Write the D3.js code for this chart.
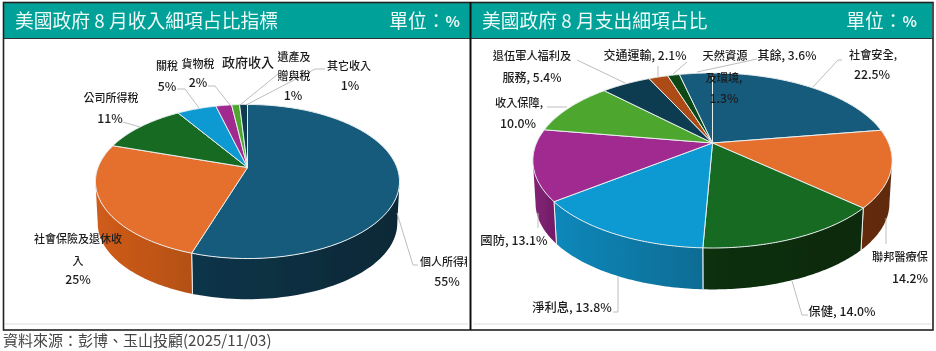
<!DOCTYPE html>
<html>
<head>
<meta charset="utf-8">
<script src="https://cdn.jsdelivr.net/npm/d3@7"></script>
<style>
  body { margin: 0; background: #fff; }
  svg { display: block; }
  text { font-family: "Noto Sans CJK TC", "Noto Sans", sans-serif; }
</style>
</head>
<body>
<div id="chart"></div>
<script>
// revenue
const revenueNames = ["個人所得稅", "社會保險及退休收入", "公司所得稅", "關稅", "貨物稅", "遺產及贈與稅", "其它收入"];
const revenueValues = [55, 25, 11, 5, 2, 1, 1];
const revenueColors = ["#155a7c", "#e5702d", "#196a23", "#0f9ad3", "#a02a90", "#4ea72e", "#0d3a4f"];

// spending
const spendingNames = ["社會安全", "聯邦醫療保健", "保健", "淨利息", "國防", "收入保障", "退伍軍人福利及服務", "交通運輸", "天然資源及環境", "其餘"];
const spendingValues = [22.5, 14.2, 14.0, 13.8, 13.1, 10.0, 5.4, 2.1, 1.3, 3.6];
const spendingColors = ["#155a7c", "#e5702d", "#196a23", "#0f9ad3", "#a02a90", "#4ea72e", "#0d3a4f", "#ad4c17", "#0e4a18", "#155a7c"];

const width = 936, height = 351;

const svg = d3.select("#chart").append("svg")
  .attr("width", width)
  .attr("height", height);

const defs = svg.append("defs");
const soft = defs.append("filter").attr("id", "soft");
soft.append("feGaussianBlur").attr("stdDeviation", 0.35);

// panel clips, the long label is cut at the panel edge in the source
defs.append("clipPath").attr("id", "clipL").append("rect")
  .attr("x", 4).attr("y", 4).attr("width", 463).attr("height", 325);
defs.append("clipPath").attr("id", "clipR").append("rect")
  .attr("x", 472).attr("y", 4).attr("width", 460).attr("height", 325);

const root = svg.append("g").attr("filter", "url(#soft)");

// header bands and frame
const teal = "#00a198";
root.append("rect").attr("x", 4).attr("y", 3).attr("width", 928).attr("height", 35).attr("fill", teal);
[324].forEach(y => {
  root.append("line").attr("x1", 5).attr("x2", 468).attr("y1", y).attr("y2", y).attr("stroke", "#eee").attr("stroke-width", 2);
  root.append("line").attr("x1", 474).attr("x2", 931).attr("y1", y).attr("y2", y).attr("stroke", "#eee").attr("stroke-width", 2);
});
root.append("line").attr("x1", 3).attr("x2", 933).attr("y1", 38.5).attr("y2", 38.5).attr("stroke", "#333").attr("stroke-width", 1);
root.append("rect").attr("x", 3.5).attr("y", 2.5).attr("width", 929.5).attr("height", 327.5)
  .attr("fill", "none").attr("stroke", "#222").attr("stroke-width", 1.6);
root.append("line").attr("x1", 470.5).attr("x2", 470.5).attr("y1", 2).attr("y2", 330).attr("stroke", "#111").attr("stroke-width", 2);

// circle seen in perspective: persp pulls the near edge down and wider
function projector(c) {
  return a => {
    const u = Math.sin(a), v = -Math.cos(a), w = 1 - c.persp * v;
    return [c.cx + c.rx * u / w, c.cy + c.ry * v / w];
  };
}

function drawPie(c) {
  const g = root.append("g");
  const project = projector(c);
  // same rim pushed down for the bottom edge of the wall
  const lower = a => {
    const p = project(a);
    return [c.cx + (p[0] - c.cx) * c.shrink, c.cy + (p[1] - c.cy) * c.shrink + c.depth];
  };
  const line = d3.line();
  const arcs = d3.pie().sort(null)(c.values);
  const sweep = (a0, a1) => d3.range(0, 61).map(i => a0 + (a1 - a0) * i / 60);

  // wall is only visible where the rim faces us
  const frontStart = Math.acos(-c.persp), frontEnd = 2 * Math.PI - frontStart;
  arcs.forEach((d, i) => {
    const a0 = Math.max(d.startAngle, frontStart), a1 = Math.min(d.endAngle, frontEnd);
    if (a1 <= a0) return;
    const top = sweep(a0, a1).map(project);
    const bottom = sweep(a0, a1).map(lower).reverse();
    const id = `${c.id}-side-${i}`;
    const xs = top.map(p => p[0]);
    const grad = defs.append("linearGradient").attr("id", id)
      .attr("gradientUnits", "userSpaceOnUse")
      .attr("x1", d3.min(xs)).attr("x2", d3.max(xs)).attr("y1", 0).attr("y2", 0);
    const base = d3.hsl(c.colors[i]);
    grad.append("stop").attr("offset", 0).attr("stop-color", base.darker(c.sideLeft[i]));
    grad.append("stop").attr("offset", 1).attr("stop-color", base.darker(c.sideRight[i]));
    g.append("path")
      .attr("d", line(top.concat(bottom)) + "Z")
      .attr("fill", `url(#${id})`);
    // seam between walls
    [d.startAngle, d.endAngle].forEach(a => {
      if (a < frontStart || a > frontEnd) return;
      g.append("path").attr("d", line([project(a), lower(a)]))
        .attr("stroke", "#e8eeee").attr("stroke-width", 1).attr("fill", "none");
    });
  });

  // top face
  arcs.forEach((d, i) => {
    const rim = sweep(d.startAngle, d.endAngle).map(project);
    g.append("path")
      .attr("d", line([[c.cx, c.cy]].concat(rim)) + "Z")
      .attr("fill", c.colors[i])
      .attr("stroke", "#e8eeee")
      .attr("stroke-width", 1)
      .attr("stroke-linejoin", "round");
  });
}

drawPie({
  id: "rev", values: revenueValues, colors: revenueColors,
  cx: 247.5, cy: 167.5, rx: 149.5, ry: 74.5, persp: 0.182, depth: 42, shrink: 0.985,
  sideLeft: [1.5, 0.45, 1, 1, 1, 1, 1],
  sideRight: [2.3, 0.85, 1, 1, 1, 1, 1]
});

drawPie({
  id: "spend", values: spendingValues, colors: spendingColors,
  cx: 712.5, cy: 143, rx: 176, ry: 84, persp: 0.2, depth: 43, shrink: 0.985,
  sideLeft: [1, 2.5, 2.2, 0.35, 0.6, 1, 1, 1, 1, 1],
  sideRight: [1, 2.6, 2.6, 1.0, 0.9, 1, 1, 1, 1, 1]
});

// leader lines
const leaders = [
  [[123, 122], [140, 127]],
  [[177, 89], [185, 89], [199, 108]],
  [[208, 86], [215, 86], [230, 105]],
  [[278, 74], [240, 105]],
  [[325, 69], [315, 69], [246, 105]],
  [[418, 265], [413, 265], [397, 213]],
  [[842, 60], [838, 60], [813, 87]],
  [[886, 218], [886, 244]],
  [[808, 315], [802, 315], [792, 281]],
  [[613, 312], [618, 312], [618, 277]],
  [[538, 213], [538, 228]],
  [[547, 107], [567, 107]],
  [[577, 60], [625, 83]],
  [[658, 66], [658, 77]],
  [[687, 62], [673, 74]],
  [[757, 59], [697, 72]]
];
root.append("g").selectAll("path")
  .data(leaders)
  .join("path")
    .attr("d", d3.line())
    .attr("fill", "none")
    .attr("stroke", "#bdbdbd")
    .attr("stroke-width", 1);

// label text: [text, x, center y, anchor, size]
const revenueLabels = [
  ["政府收入", 248, 62, "middle", 13],
  ["公司所得稅", 111, 98, "middle", 11], ["11%", 110, 119, "middle", 12.3],
  ["關稅", 167, 66, "middle", 11], ["5%", 167, 87, "middle", 12.3],
  ["貨物稅", 198, 64, "middle", 11], ["2%", 198, 83, "middle", 12.3],
  ["遺產及", 294, 57, "middle", 11], ["贈與稅", 294, 76, "middle", 11], ["1%", 293, 96, "middle", 12.3],
  ["其它收入", 349, 66, "middle", 11], ["1%", 350, 86, "middle", 12.3],
  ["個人所得稅", 420, 262, "start", 11], ["55%", 447, 282, "middle", 12.3],
  ["社會保險及退休收", 78, 239, "middle", 11], ["入", 78, 261, "middle", 11], ["25%", 78, 280, "middle", 12.3]
];
const spendingLabels = [
  ["退伍軍人福利及", 532, 56, "middle", 11.2], ["服務, 5.4%", 532, 78, "middle", 12],
  ["交通運輸, 2.1%", 645, 56, "middle", 12],
  ["天然資源", 725, 56, "middle", 11.2], ["及環境,", 724, 78, "middle", 11.2], ["1.3%", 724, 99, "middle", 12.3],
  ["其餘, 3.6%", 787, 56, "middle", 12],
  ["社會安全,", 873, 55, "middle", 11.2], ["22.5%", 872, 75, "middle", 12.3],
  ["收入保障,", 519, 103, "middle", 11.2], ["10.0%", 518, 124, "middle", 12.3],
  ["國防, 13.1%", 514, 241, "middle", 12.3],
  ["淨利息, 13.8%", 572, 308, "middle", 12.3],
  ["保健, 14.0%", 842, 312, "middle", 12.3],
  ["聯邦醫療保", 872, 257, "start", 11.2], ["14.2%", 910, 279, "middle", 12.3]
];

function drawLabels(list, clip) {
  root.append("g").attr("clip-path", `url(#${clip})`).selectAll("text")
    .data(list)
    .join("text")
      .attr("x", d => d[1])
      .attr("y", d => d[2])
      .attr("dy", "0.36em")
      .attr("text-anchor", d => d[3])
      .attr("font-size", d => d[4])
      .attr("font-weight", 500)
      .attr("fill", "#1c1c1c")
      .text(d => d[0]);
}
drawLabels(revenueLabels, "clipL");
drawLabels(spendingLabels, "clipR");

// headers
const headers = [
  ["美國政府 8 月收入細項占比指標", 15, "start"],
  ["美國政府 8 月支出細項占比", 482, "start"]
];
root.append("g").selectAll("text")
  .data(headers)
  .join("text")
    .attr("x", d => d[1])
    .attr("y", 21)
    .attr("dy", "0.36em")
    .attr("text-anchor", d => d[2])
    .attr("font-size", 18.8)
    .attr("fill", "#eefaf8")
    .text(d => d[0]);

// unit, the % sign is narrow in the source
[460, 917].forEach(x => {
  const unit = root.append("text")
    .attr("x", x)
    .attr("y", 27.5)
    .attr("text-anchor", "end")
    .attr("font-size", 18.8)
    .attr("fill", "#eefaf8");
  unit.append("tspan").text("單位：");
  unit.append("tspan").attr("font-size", 15).attr("font-weight", 700).attr("dy", -1).text("%");
});

// source
root.append("text")
  .attr("x", 3)
  .attr("y", 341)
  .attr("dy", "0.36em")
  .attr("font-size", 15)
  .attr("fill", "#444")
  .text("資料來源：彭博、玉山投顧(2025/11/03)");
</script>
</body>
</html>
